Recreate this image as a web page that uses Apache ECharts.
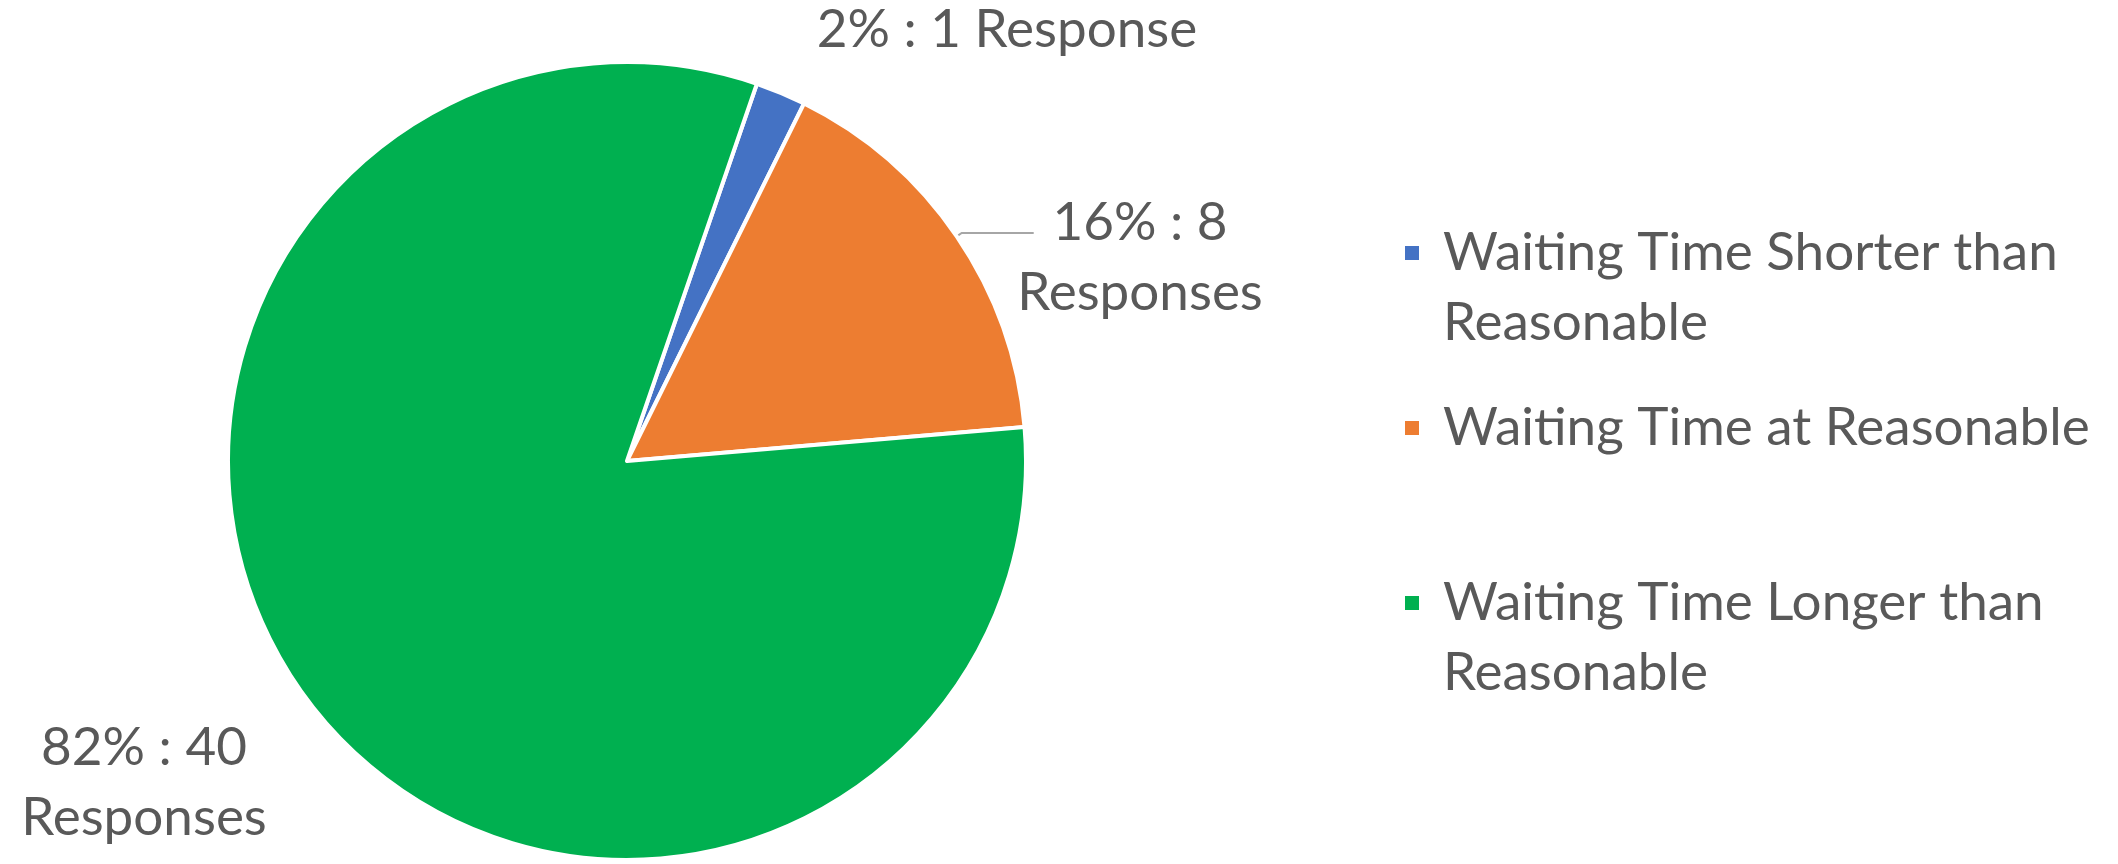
<!DOCTYPE html>
<html>
<head>
<meta charset="utf-8">
<title>Waiting Time</title>
<script src="https://cdn.jsdelivr.net/npm/echarts@6/dist/echarts.min.js"></script>
<style>
  html, body { margin: 0; padding: 0; background: #ffffff; }
  #chart { width: 2118px; height: 864px; }
</style>
</head>
<body>
<div id="chart"></div>
<script>
// Survey categories and response counts
const categories = [
  'Waiting Time Shorter than Reasonable',
  'Waiting Time at Reasonable',
  'Waiting Time Longer than Reasonable'
];
const legendLabels = [
  'Waiting Time Shorter than\nReasonable',
  'Waiting Time at Reasonable',
  'Waiting Time Longer than\nReasonable'
];
const responses = [1, 8, 40];
const percentLabels = ['2%', '16%', '82%'];
const colors = ['#4472C4', '#ED7D31', '#00B050'];

// Layout settings
const FONT = 'Lato, "Open Sans", sans-serif';
const FONT_SIZE = 53;
const LINE_H = 70;
const TEXT_COLOR = '#595959';
const PIE_CENTER = [627, 461];
const PIE_RADIUS = 399;
// label block centres, one per slice
const labelAnchors = [[1007, 30], [1140, 258], [144, 783]];
// vertical centre of each legend marker
const legendMarkerY = [253, 428, 603];

const chart = echarts.init(document.getElementById('chart'), null, { renderer: 'canvas' });

function labelText(i) {
  const n = responses[i];
  const word = n === 1 ? 'Response' : 'Responses';
  const sep = i === 0 ? ' ' : '\n';
  return percentLabels[i] + ' : ' + n + sep + word;
}

// One legend block per entry; wrapped entries get an empty leading line so
// the marker sits beside the first line of text.
const legends = categories.map(function (name, i) {
  const lines = legendLabels[i].split('\n').length;
  const extra = lines - 1;
  const text = '\n'.repeat(extra) + legendLabels[i];
  const boxH = (lines + extra) * LINE_H;
  return {
    orient: 'vertical',
    left: 1403,
    top: legendMarkerY[i] - boxH / 2,
    padding: 0,
    icon: 'rect',
    itemWidth: 16,
    itemHeight: 16,
    selectedMode: false,
    data: [name],
    formatter: function () { return text; },
    textStyle: {
      fontFamily: FONT,
      fontSize: FONT_SIZE,
      lineHeight: LINE_H,
      color: TEXT_COLOR,
      padding: [0, 0, 0, 18]
    }
  };
});

const pieData = categories.map(function (name, i) {
  return {
    name: name,
    value: responses[i],
    itemStyle: { color: colors[i] },
    labelLine: { show: i === 1 }
  };
});

chart.setOption({
  backgroundColor: '#ffffff',
  animation: false,
  legend: legends,
  series: [{
    type: 'pie',
    center: PIE_CENTER,
    radius: PIE_RADIUS,
    startAngle: 71,
    clockwise: true,
    avoidLabelOverlap: false,
    itemStyle: { borderColor: '#ffffff', borderWidth: 4 },
    emphasis: { disabled: true },
    label: {
      show: true,
      position: 'outside',
      formatter: function (p) {
        return labelText(p.dataIndex).split('\n').map(function (s) { return '{c|' + s + '}'; }).join('\n');
      },
      rich: {
        c: {
          fontFamily: FONT,
          fontSize: FONT_SIZE,
          lineHeight: LINE_H,
          color: TEXT_COLOR,
          align: 'center'
        }
      }
    },
    labelLine: {
      show: true,
      length: 6,
      length2: 72,
      lineStyle: { color: '#A6A6A6', width: 2 }
    },
    labelLayout: function (params) {
      const a = labelAnchors[params.dataIndex];
      return {
        x: a[0],
        y: a[1],
        align: 'center',
        verticalAlign: 'middle',
        labelLinePoints: params.labelLinePoints
      };
    },
    data: pieData
  }]
});
</script>
</body>
</html>
